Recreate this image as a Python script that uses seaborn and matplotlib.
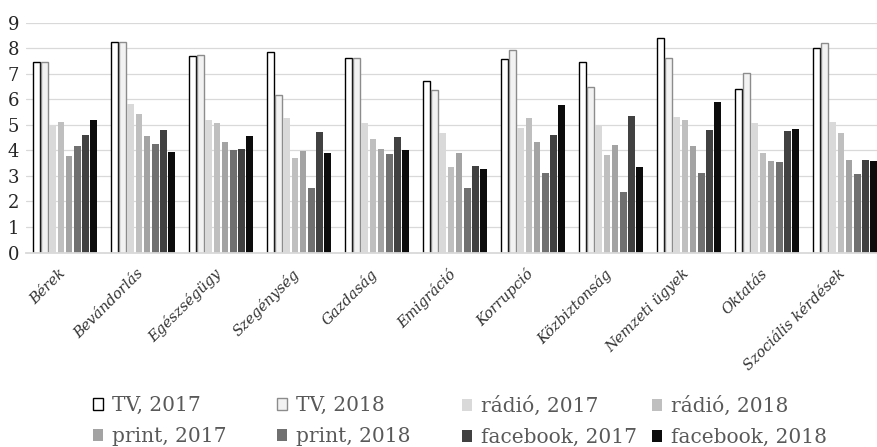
import numpy as np
import pandas as pd
import matplotlib
matplotlib.use("Agg")
import matplotlib.pyplot as plt
import matplotlib.transforms as mtransforms
import seaborn as sns
from matplotlib.patches import Patch

categories = ["Bérek", "Bevándorlás", "Egészségügy", "Szegénység", "Gazdaság",
              "Emigráció", "Korrupció", "Közbiztonság", "Nemzeti ügyek",
              "Oktatás", "Szociális kérdések"]

series_labels = ["TV, 2017", "TV, 2018", "rádió, 2017", "rádió, 2018",
                 "print, 2017", "print, 2018", "facebook, 2017", "facebook, 2018"]

tv_2017 = [7.45, 8.24, 7.68, 7.85, 7.62, 6.70, 7.57, 7.46, 8.40, 6.40, 8.00]
tv_2018 = [7.45, 8.24, 7.74, 6.17, 7.62, 6.38, 7.94, 6.47, 7.62, 7.02, 8.19]
radio_2017 = [4.98, 5.82, 5.18, 5.27, 5.08, 4.67, 4.89, 4.99, 5.30, 5.07, 5.11]
radio_2018 = [5.10, 5.43, 5.07, 3.70, 4.43, 3.36, 5.26, 3.82, 5.20, 3.91, 4.67]
print_2017 = [3.77, 4.55, 4.33, 3.99, 4.05, 3.90, 4.33, 4.22, 4.17, 3.60, 3.62]
print_2018 = [4.17, 4.25, 4.03, 2.51, 3.86, 2.51, 3.10, 2.37, 3.10, 3.54, 3.09]
facebook_2017 = [4.61, 4.81, 4.07, 4.72, 4.52, 3.40, 4.60, 5.33, 4.79, 4.75, 3.62]
facebook_2018 = [5.18, 3.94, 4.56, 3.91, 4.00, 3.28, 5.79, 3.36, 5.91, 4.83, 3.58]

series_values = [tv_2017, tv_2018, radio_2017, radio_2018,
                 print_2017, print_2018, facebook_2017, facebook_2018]

fill_colors = ["#ffffff", "#f2f2f2", "#d9d9d9", "#bfbfbf",
               "#a3a3a3", "#707070", "#414141", "#0c0c0c"]
edge_colors = ["#000000", "#8c8c8c", None, None, None, None, None, None]

rows = []
for lab, vals in zip(series_labels, series_values):
    for c, v in zip(categories, vals):
        rows.append({"category": c, "series": lab, "value": v})
df = pd.DataFrame(rows)

sns.set_theme(style="white")
plt.rcParams["font.family"] = ["DejaVu Serif"]

W, H = 878, 447
fig = plt.figure(figsize=(W / 100, H / 100), dpi=100)
y0_px, y9_px = 252.5, 22.7
ax = fig.add_axes([26 / W, (H - y0_px) / H, 858 / W, (y0_px - y9_px) / H])

sns.barplot(data=df, x="category", y="value", hue="series",
            order=categories, hue_order=series_labels,
            palette=dict(zip(series_labels, fill_colors)), saturation=1,
            width=0.83, gap=0.15, linewidth=0, errorbar=None,
            legend=False, ax=ax)

for cont, ec in zip(ax.containers, edge_colors):
    if ec is not None:
        for p in cont:
            p.set_edgecolor(ec)
            p.set_linewidth(1.0)

ax.set_ylim(0, 9)
ax.set_xlim(-0.5, len(categories) - 0.5)
ax.set_yticks(range(10))
ax.yaxis.grid(True, color="#d9d9d9", linewidth=0.9)
ax.xaxis.grid(False)
ax.set_axisbelow(True)
for s in ["top", "right", "left"]:
    ax.spines[s].set_visible(False)
ax.spines["bottom"].set_color("#d9d9d9")
ax.spines["bottom"].set_linewidth(1.3)
ax.set_xlabel("")
ax.set_ylabel("")

ax.tick_params(axis="y", length=0, pad=5, labelsize=13, labelcolor="#262626")
ax.tick_params(axis="x", length=0, pad=10, labelsize=10.5, labelcolor="#333333")
ax.set_xticks(range(len(categories)))
ax.set_xticklabels(categories, rotation=45, ha="right",
                   rotation_mode="anchor", fontstyle="italic")
offset = mtransforms.ScaledTranslation(-5 / 72, 0, fig.dpi_scale_trans)
for lab in ax.get_xticklabels():
    lab.set_transform(lab.get_transform() + offset)

# legend in four columns (row-wise order like the original)
col_x = [93, 277, 462, 652]
for ci in range(4):
    idx = [ci, ci + 4]
    handles = []
    for i in idx:
        ec = edge_colors[i] if edge_colors[i] is not None else fill_colors[i]
        lw = 1.0 if edge_colors[i] is not None else 0
        handles.append(Patch(facecolor=fill_colors[i], edgecolor=ec, linewidth=lw))
    fig.legend(handles, [series_labels[i] for i in idx], loc="upper left",
               bbox_to_anchor=(col_x[ci] / W, 1 - 396 / H), frameon=False,
               fontsize=14.5, handlelength=0.5, handleheight=0.5,
               handletextpad=0.45, labelspacing=0.6, borderpad=0,
               borderaxespad=0, labelcolor="#595959")

fig.savefig("out.png", dpi=100)
